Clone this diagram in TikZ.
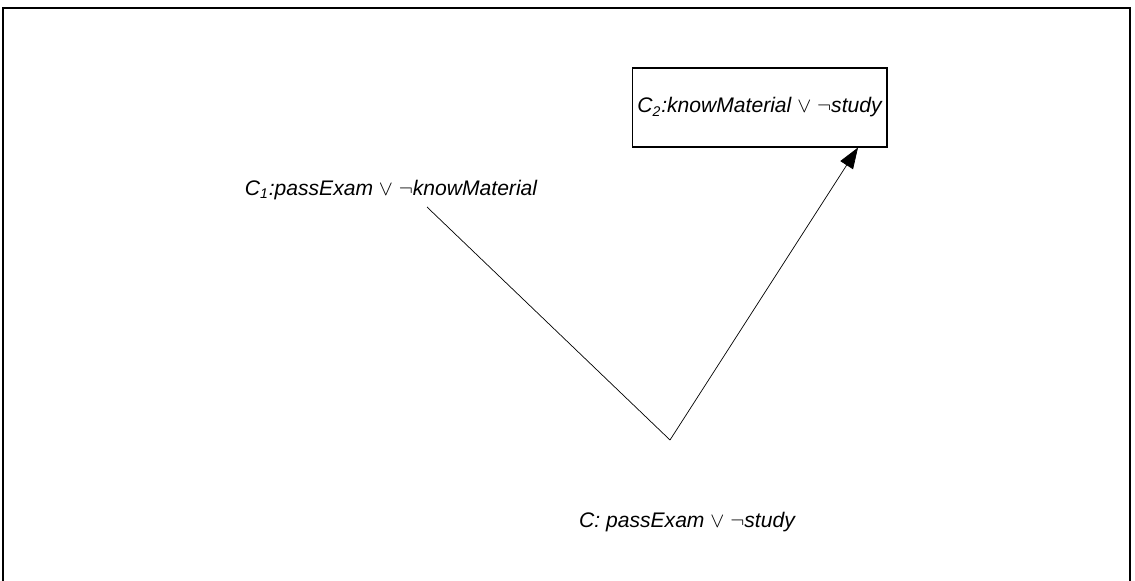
\documentclass[tikz,border=0pt]{standalone}
\usepackage{fontspec}
\setmainfont{Liberation Sans}
\usetikzlibrary{arrows.meta}

\begin{document}
\begin{tikzpicture}[x=0.02cm,y=-0.02cm,font=\fontsize{12}{15}\selectfont\itshape]
        \useasboundingbox (0,0) rectangle (1135,581);
        \draw[line width=0.7pt] (3,581) -- (3,8) -- (1130,8) -- (1130,581);
        \node[draw,line width=0.6pt,minimum width=5.1cm,minimum height=1.58cm,inner xsep=1pt] (c2) at (759.5,107.5) {C\textsubscript{2}:knowMaterial $\vee$ $\neg$study};
        \node (c1) at (391,190) {C\textsubscript{1}:passExam $\vee$ $\neg$knowMaterial};
        \node (c) at (687,522) {C: passExam $\vee$ $\neg$study};
        \coordinate (start) at (427,207);
        \coordinate (vtx) at (670,440);
        \draw (start) -- (vtx);
        \draw[-{Triangle[length=0.42cm,width=0.3cm]}] (vtx) -- (c2.south -| 858,0);
\end{tikzpicture}
\end{document}
